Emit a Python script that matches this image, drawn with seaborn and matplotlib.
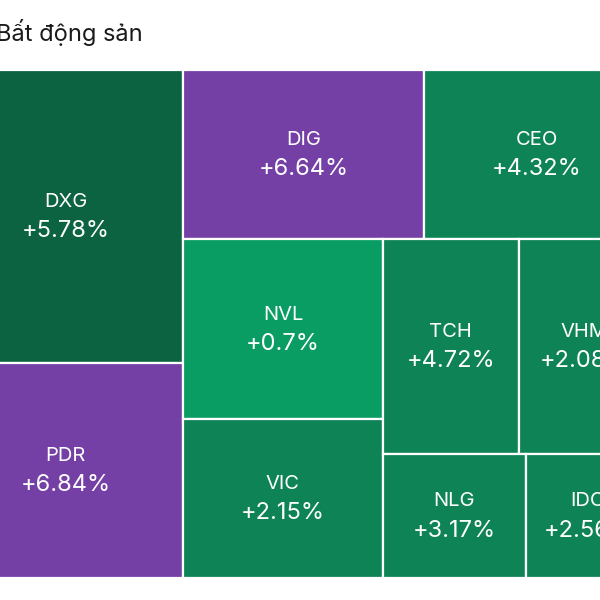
import seaborn as sns
import matplotlib.pyplot as plt
from matplotlib.patches import Rectangle

# Données du treemap (taille relative de chaque mã, variation du jour)
tickers = ["DXG", "PDR", "DIG", "CEO", "NVL", "VIC", "TCH", "VHM", "NLG", "IDC"]
poids = [68900, 50500, 40600, 38200, 35800, 31600, 29200, 28200, 17700, 15400]
variation = [5.78, 6.84, 6.64, 4.32, 0.70, 2.15, 4.72, 2.08, 3.17, 2.56]
titre = "Bất động sản"


def couleur(pct):
    # violet = tím trần, vert foncé / moyen / clair selon la hausse
    if pct >= 6.5:
        return "#7440a6"
    if pct >= 5:
        return "#0b6341"
    if pct < 1:
        return "#0a9d63"
    return "#0e8456"


def worst(row, side):
    s = sum(row)
    return max(max(side * side * r / (s * s), (s * s) / (side * side * r)) for r in row)


def squarify(vals, x, y, w, h):
    """Algorithme squarified : renvoie une liste de (x, y, w, h), y vers le bas."""
    rects = []
    vals = list(vals)
    while vals:
        side = min(w, h)
        row = [vals[0]]
        i = 1
        while i < len(vals) and worst(row + [vals[i]], side) <= worst(row, side):
            row.append(vals[i])
            i += 1
        vals = vals[i:]
        s = sum(row)
        if w >= h:
            cw = s / h
            yy = y
            for r in row:
                rects.append((x, yy, cw, r / cw))
                yy += r / cw
            x += cw
            w -= cw
        else:
            rh = s / w
            xx = x
            for r in row:
                rects.append((xx, y, r / rh, rh))
                xx += r / rh
            y += rh
            h -= rh
    return rects


sns.set_theme(style="white")
plt.rcParams['font.family'] = ['Inter', 'DejaVu Sans']

fig = plt.figure(figsize=(6, 6), dpi=100)
# le treemap dépasse du cadre à gauche et à droite (capture recadrée)
ax = fig.add_axes([-52 / 600, 22 / 600, 702 / 600, 508 / 600])
W, H = 702.0, 508.0
total = sum(poids)
aires = [p * W * H / total for p in poids]
rects = squarify(aires, 0, 0, W, H)

for (x, y, w, h), t, v in zip(rects, tickers, variation):
    ax.add_patch(Rectangle((x, y), w, h, facecolor=couleur(v), edgecolor="white", linewidth=1.6))
    cx, cy = x + w / 2, y + h / 2
    ax.annotate(t, (cx, cy), xytext=(0, 10.5), textcoords="offset points",
                ha="center", va="center", color="white", fontsize=14.5)
    ax.annotate(f"+{v:g}%", (cx, cy), xytext=(0, -10.5), textcoords="offset points",
                ha="center", va="center", color="white", fontsize=17)

ax.set_xlim(0, W)
ax.set_ylim(H, 0)
ax.axis("off")

fig.text(-4 / 600, 1 - 33 / 600, titre, ha="left", va="center", fontsize=17, color="#1a1a1a")

fig.savefig("out.png", dpi=100)
